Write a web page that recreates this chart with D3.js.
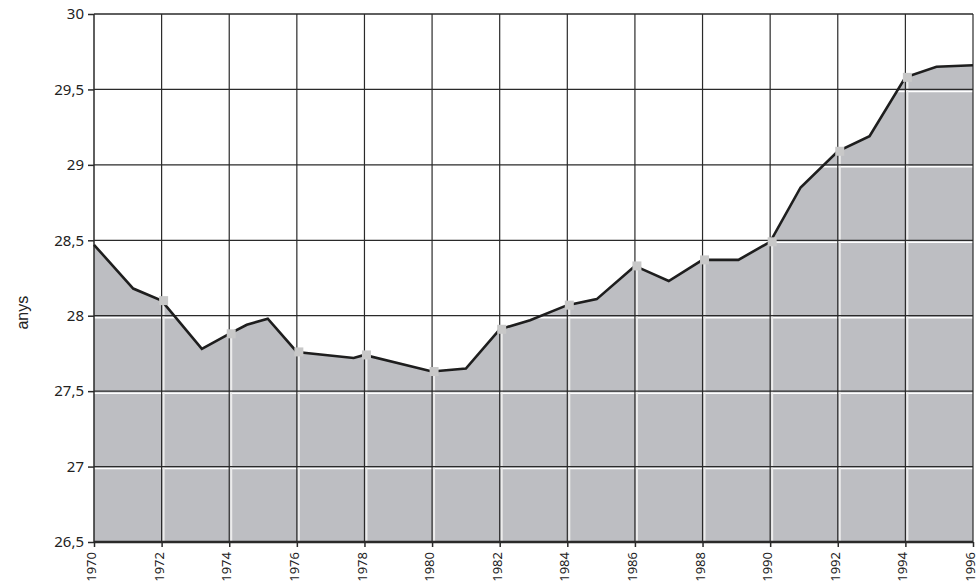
<!DOCTYPE html>
<html>
<head>
<meta charset="utf-8">
<script src="https://cdn.jsdelivr.net/npm/d3@7"></script>
<style>
  body { margin: 0; background: #fff; }
</style>
</head>
<body>
<div id="container"></div>
<script>
"use strict";

// vertices of the line (some sit between years)
const years = [1970, 1971.16, 1972, 1973.19, 1974, 1974.52, 1975.14, 1976, 1977.68, 1978,
  1980, 1981, 1982, 1982.9, 1984, 1984.87, 1986, 1987, 1988, 1989.06,
  1990, 1990.9, 1992, 1992.94, 1994, 1994.92, 1996];
const values = [28.47, 28.18, 28.10, 27.78, 27.88, 27.94, 27.98, 27.76, 27.72, 27.74,
  27.63, 27.65, 27.91, 27.97, 28.07, 28.11, 28.33, 28.23, 28.37, 28.37,
  28.49, 28.85, 29.09, 29.19, 29.58, 29.65, 29.66];

const xTicks = [1970, 1972, 1974, 1976, 1978, 1980, 1982, 1984, 1986, 1988, 1990, 1992, 1994, 1996];
const yTicks = [26.5, 27, 27.5, 28, 28.5, 29, 29.5, 30];
const markerYears = [1972, 1974, 1976, 1978, 1980, 1982, 1984, 1986, 1988, 1990, 1992, 1994];

const width = 979;
const height = 588;
const margin = { top: 14, right: 6, bottom: 46, left: 94 };

const fillColor = "#bdbec2";
const gridColor = "#2a2a2a";
const markerColor = "#c8c8c8";

const data = years.map((y, i) => ({ year: y, value: values[i] }));

const svg = d3.select("#container")
  .append("svg")
  .attr("width", width)
  .attr("height", height);

const x = d3.scaleLinear()
  .domain([1970, 1996])
  .range([margin.left, width - margin.right]);

const y = d3.scaleLinear()
  .domain([26.5, 30])
  .range([height - margin.bottom, margin.top]);

const area = d3.area()
  .x(d => x(d.year))
  .y0(y(26.5))
  .y1(d => y(d.value));

const line = d3.line()
  .x(d => x(d.year))
  .y(d => y(d.value));

svg.append("path")
  .datum(data)
  .attr("d", area)
  .attr("fill", fillColor);

// light "shadow" grid lines, only seen inside the grey area
svg.append("g")
  .selectAll("line")
  .data(yTicks.slice(1, -1))
  .join("line")
  .attr("x1", x(1970))
  .attr("x2", x(1996))
  .attr("y1", d => y(d) + 2)
  .attr("y2", d => y(d) + 2)
  .attr("stroke", "#fff")
  .attr("stroke-width", 1.5);

const markers = data.filter(d => markerYears.includes(d.year));

svg.append("g")
  .selectAll("line")
  .data(markers)
  .join("line")
  .attr("x1", d => x(d.year) + 2)
  .attr("x2", d => x(d.year) + 2)
  .attr("y1", d => y(d.value))
  .attr("y2", y(26.5))
  .attr("stroke", "#ececec")
  .attr("stroke-width", 2);

// dark grid
svg.append("g")
  .selectAll("line")
  .data(yTicks)
  .join("line")
  .attr("x1", x(1970))
  .attr("x2", x(1996))
  .attr("y1", d => y(d))
  .attr("y2", d => y(d))
  .attr("stroke", gridColor)
  .attr("stroke-width", d => (d === 26.5 ? 2.5 : 1.3));

svg.append("g")
  .selectAll("line")
  .data(xTicks)
  .join("line")
  .attr("x1", d => x(d))
  .attr("x2", d => x(d))
  .attr("y1", y(30))
  .attr("y2", y(26.5))
  .attr("stroke", gridColor)
  .attr("stroke-width", d => (d === 1970 ? 1.5 : 1.2));

svg.append("path")
  .datum(data)
  .attr("d", line)
  .attr("fill", "none")
  .attr("stroke", "#1e1e1e")
  .attr("stroke-width", 2.6)
  .attr("stroke-linejoin", "miter");

svg.append("g")
  .selectAll("rect")
  .data(markers)
  .join("rect")
  .attr("x", d => x(d.year) - 2.5)
  .attr("y", d => y(d.value) - 4.5)
  .attr("width", 9)
  .attr("height", 9)
  .attr("fill", markerColor);

// axes
const yAxis = d3.axisLeft(y)
  .tickValues(yTicks)
  .tickSize(6)
  .tickPadding(4)
  .tickFormat(d => String(d).replace(".", ","));

const gy = svg.append("g")
  .attr("transform", `translate(${margin.left},0)`)
  .call(yAxis);
gy.select(".domain").remove();
gy.selectAll(".tick line").attr("stroke", gridColor).attr("stroke-width", 1.5);
gy.selectAll(".tick text")
  .attr("fill", "#222")
  .style("font-family", "'Noto Sans', sans-serif")
  .style("font-size", "15px");

const xAxis = d3.axisBottom(x)
  .tickValues(xTicks)
  .tickSize(5)
  .tickFormat(d3.format("d"));

const gx = svg.append("g")
  .attr("transform", `translate(0,${y(26.5)})`)
  .call(xAxis);
gx.select(".domain").remove();
gx.selectAll(".tick line").attr("stroke", gridColor).attr("stroke-width", 1.5);
gx.selectAll(".tick text")
  .attr("fill", "#222")
  .attr("transform", "rotate(-90)")
  .attr("text-anchor", "end")
  .attr("x", -10)
  .attr("y", 0)
  .attr("dy", "0.12em")
  .style("font-family", "'Noto Sans', sans-serif")
  .style("font-size", "13px");

svg.append("text")
  .attr("transform", `translate(22,${y(28.02)}) rotate(-90)`)
  .attr("text-anchor", "middle")
  .attr("dy", "0.35em")
  .attr("fill", "#222")
  .style("font-family", "'Liberation Sans', Arial, sans-serif")
  .style("font-size", "16px")
  .text("anys");
</script>
</body>
</html>
